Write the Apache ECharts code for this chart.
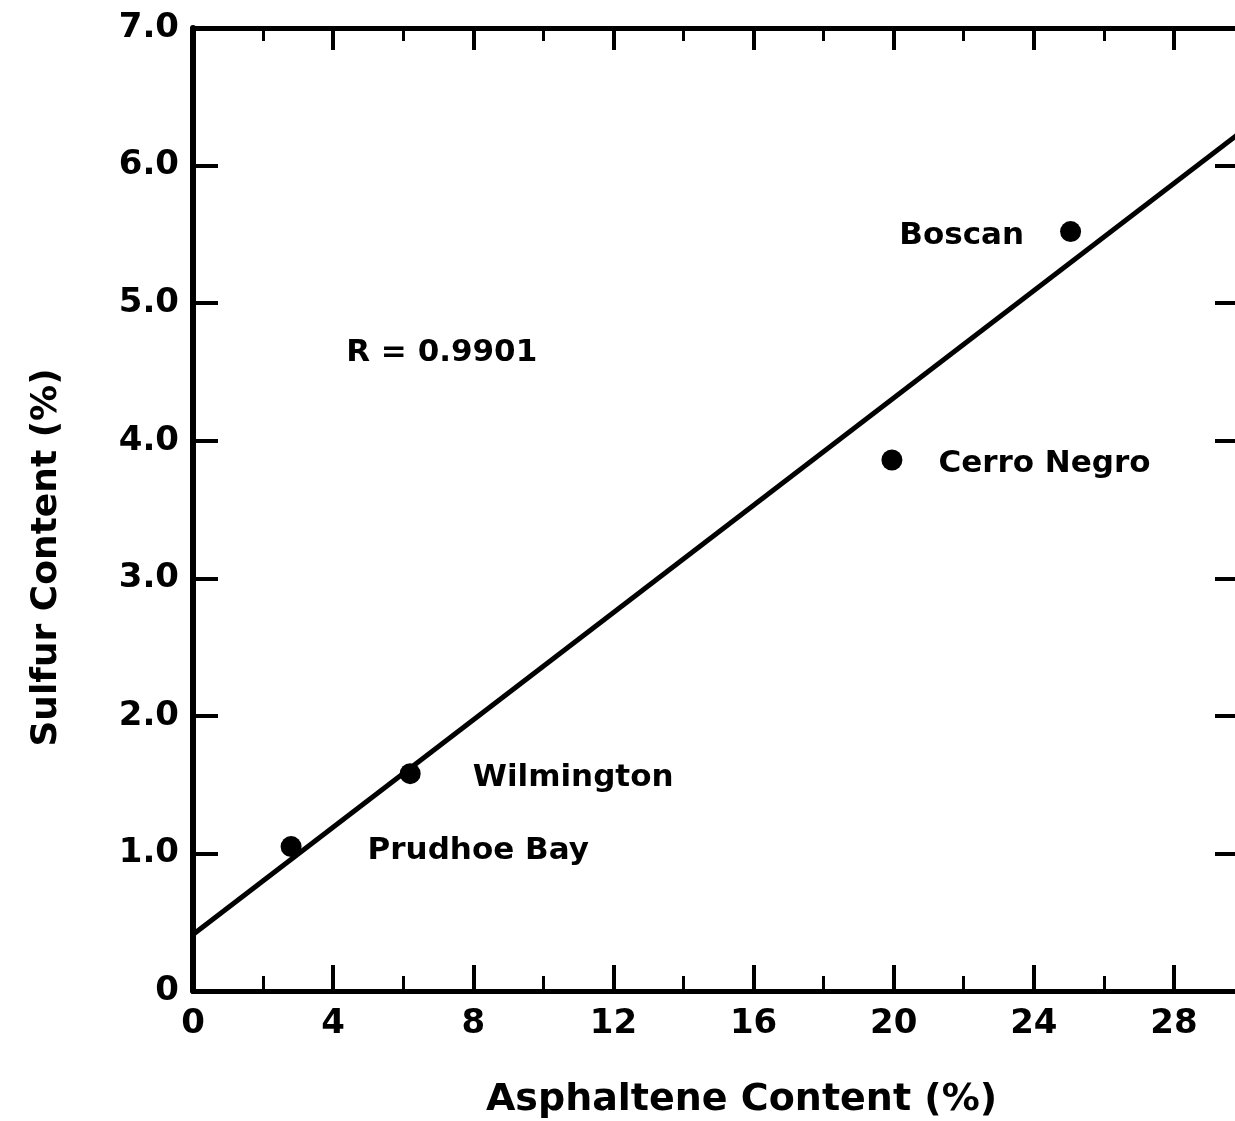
<!DOCTYPE html>
<html>
<head>
<meta charset="utf-8">
<script src="https://cdn.jsdelivr.net/npm/echarts@6/dist/echarts.min.js"></script>
<style>
html,body{margin:0;padding:0;background:#fff;}
#chart{width:1235px;height:1121px;}
</style>
</head>
<body>
<div id="chart"></div>
<script>
// ---- data ----
var crudeNames = ['Prudhoe Bay', 'Wilmington', 'Cerro Negro', 'Boscan'];
var asphaltene = [2.8, 6.2, 19.95, 25.05];
var sulfur = [1.05, 1.58, 3.86, 5.52];
var fitX = [0, 30];
var fitY = [0.41, 6.26];
var rLabel = 'R = 0.9901';
var rPos = [7.1, 4.64];
var xTicksMajor = [0, 4, 8, 12, 16, 20, 24, 28];
var yTickLabels = ['0', '1.0', '2.0', '3.0', '4.0', '5.0', '6.0', '7.0'];

var FONT = 'DejaVu Sans';
var labelCfg = [
  {position: 'right', distance: 66, offset: [0, 4]},
  {position: 'right', distance: 52, offset: [0, 4]},
  {position: 'right', distance: 36, offset: [0, 4]},
  {position: 'left', distance: 36, offset: [0, 4]}
];

var pts = crudeNames.map(function (n, i) {
  return {
    name: n,
    value: [asphaltene[i], sulfur[i]],
    label: {show: true, formatter: n, position: labelCfg[i].position,
            distance: labelCfg[i].distance, offset: labelCfg[i].offset}
  };
});
var fitData = fitX.map(function (x, i) { return [x, fitY[i]]; });

var chart = echarts.init(document.getElementById('chart'));
var common = {min: 0, max: 30, type: 'value', splitLine: {show: false}};
function xAx(pos, interval, len, width, showLine, showLabel) {
  return Object.assign({}, common, {
    position: pos, interval: interval,
    axisLine: {show: showLine, onZero: false, lineStyle: {color: '#000', width: 5}},
    axisTick: {show: true, inside: true, length: len, lineStyle: {color: '#000', width: width}},
    axisLabel: {show: showLabel, showMaxLabel: false, margin: 16, color: '#000',
      fontFamily: FONT, fontWeight: 'bold', fontSize: 34,
      formatter: function (v) { return xTicksMajor.indexOf(v) >= 0 ? String(v) : ''; }},
    name: (pos === 'bottom' && showLabel) ? 'Asphaltene Content (%)' : '',
    nameLocation: 'middle', nameGap: 90,
    nameTextStyle: {color: '#000', fontFamily: FONT, fontWeight: 'bold', fontSize: 38,
                    padding: [0, 0, 0, 46]}
  });
}

chart.setOption({
  animation: false,
  backgroundColor: '#fff',
  grid: {left: 193, top: 28, width: 1051, height: 963, containLabel: false,
         outerBoundsMode: 'none'},
  xAxis: [
    xAx('bottom', 4, 26, 4, true, true),
    xAx('bottom', 2, 15, 3, false, false),
    xAx('top', 4, 22, 4, true, false),
    xAx('top', 2, 13, 3, false, false)
  ],
  yAxis: [
    {type: 'value', min: 0, max: 7, interval: 1, position: 'left',
     splitLine: {show: false},
     axisLine: {show: true, onZero: false, lineStyle: {color: '#000', width: 6}},
     axisTick: {show: true, inside: true, length: 25, lineStyle: {color: '#000', width: 4}},
     axisLabel: {margin: 14, color: '#000', fontFamily: FONT, fontWeight: 'bold', fontSize: 34,
       formatter: function (v) { return yTickLabels[Math.round(v)]; }},
     name: 'Sulfur Content (%)', nameLocation: 'middle', nameGap: 128,
     nameTextStyle: {color: '#000', fontFamily: FONT, fontWeight: 'bold', fontSize: 36,
                     padding: [0, 96, 0, 0]}},
    {type: 'value', min: 0, max: 7, interval: 1, position: 'right',
     splitLine: {show: false},
     axisLine: {show: true, onZero: false, lineStyle: {color: '#000', width: 5}},
     axisTick: {show: true, inside: true, length: 29, lineStyle: {color: '#000', width: 4}},
     axisLabel: {show: false}}
  ],
  series: [
    {type: 'line', data: fitData, xAxisIndex: 0, yAxisIndex: 0, symbol: 'none',
     lineStyle: {color: '#000', width: 5, opacity: 1}, z: 2, silent: true},
    {type: 'scatter', data: pts, xAxisIndex: 0, yAxisIndex: 0, symbol: 'circle', symbolSize: 21,
     itemStyle: {color: '#000', opacity: 1}, z: 3,
     label: {color: '#000', opacity: 1, fontFamily: FONT, fontWeight: 'bold', fontSize: 31}},
    {type: 'scatter', data: [{value: rPos}], xAxisIndex: 0, yAxisIndex: 0, symbolSize: 0,
     itemStyle: {opacity: 1},
     label: {show: true, position: 'inside', formatter: rLabel, color: '#000', opacity: 1,
             fontFamily: FONT, fontWeight: 'bold', fontSize: 31}, silent: true}
  ]
});
</script>
</body>
</html>
